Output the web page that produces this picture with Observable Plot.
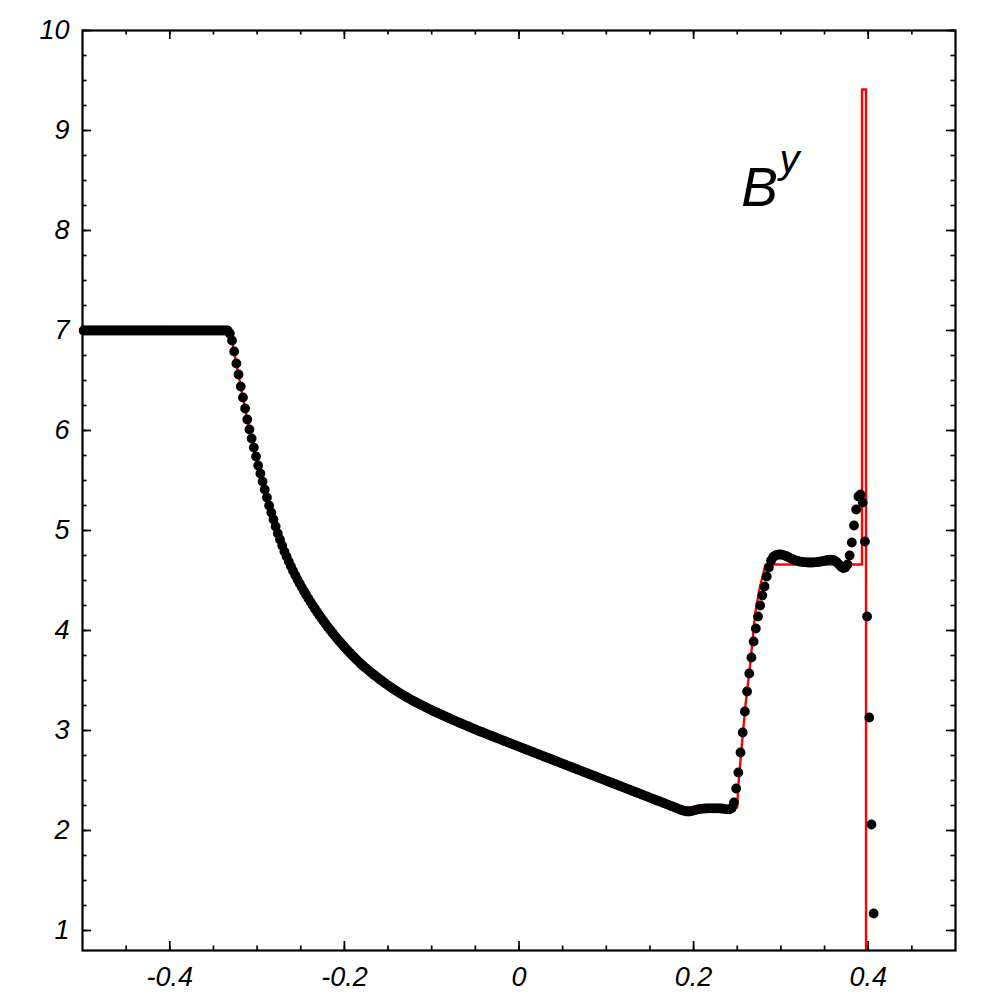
<!DOCTYPE html>
<html><head><meta charset="utf-8">
<script src="https://cdn.jsdelivr.net/npm/d3@7"></script>
<script src="https://cdn.jsdelivr.net/npm/@observablehq/plot@0.6"></script>
<style>body{margin:0;background:#fff}</style>
</head><body><div id="chart"></div>
<script>
// Simulation cell grid (uniform cells on [-0.5, 0.5])
const cellX0 = -0.49875, cellDx = 0.0025;
// Numerical B^y values (black dots), one per cell
const simBy = [
7,7,7,7,7,7,7,7,7,7,
7,7,7,7,7,7,7,7,7,7,
7,7,7,7,7,7,7,7,7,7,
7,7,7,7,7,7,7,7,7,7,
7,7,7,7,7,7,7,7,7,7,
7,7,7,7,7,7,7,7,7,7,
7,7,7,7,7,7,7,
6.97,6.90,6.79,
6.67,6.56,6.44,6.33,6.22,6.11,6.01,5.92,5.83,5.74,
5.65,5.57,5.49,5.41,5.33,5.25,5.18,5.11,5.04,4.97,
4.91,4.85,4.79,4.74,4.69,4.642,4.596,4.552,4.510,4.470,
4.431,4.393,4.356,4.320,4.285,4.251,4.218,4.185,4.153,4.122,
4.092,4.062,4.033,4.005,3.977,3.950,3.924,3.898,3.873,3.848,
3.824,3.800,3.777,3.754,3.732,3.710,3.689,3.668,3.648,3.629,
3.611,3.593,3.575,3.558,3.541,3.524,3.507,3.491,3.475,3.459,
3.444,3.429,3.414,3.400,3.386,3.372,3.359,3.346,3.333,3.321,
3.309,3.297,3.285,3.274,3.263,3.252,3.241,3.230,3.219,3.209,
3.198,3.188,3.178,3.168,3.158,3.148,3.138,3.128,3.118,3.108,
3.099,3.089,3.080,3.070,3.061,3.052,3.043,3.033,3.024,3.015,
3.006,2.997,2.988,2.980,2.971,2.962,2.954,2.945,2.936,2.928,
2.919,2.911,2.902,2.893,2.885,2.876,2.868,2.859,2.851,2.842,
2.834,2.825,2.817,2.808,2.800,2.791,2.783,2.774,2.766,2.757,
2.749,2.740,2.732,2.723,2.715,2.706,2.698,2.689,2.681,2.672,
2.664,2.655,2.647,2.638,2.630,2.621,2.613,2.604,2.596,2.587,
2.579,2.570,2.562,2.553,2.545,2.536,2.528,2.519,2.511,2.502,
2.494,2.485,2.477,2.468,2.460,2.451,2.443,2.434,2.426,2.417,
2.409,2.400,2.392,2.383,2.375,2.366,2.358,2.349,2.341,2.332,
2.324,2.315,2.307,2.298,2.290,2.281,2.273,2.264,2.256,2.247,
2.239,2.230,2.221,2.212,2.204,2.197,2.192,2.190,2.191,2.196,
2.203,2.209,2.214,2.217,2.219,2.220,2.221,2.222,2.222,2.222,
2.222,2.221,2.220,2.218,2.214,2.211,2.212,2.225,2.28,2.42,
2.58,2.78,2.98,3.19,3.39,3.57,3.73,3.89,4.02,4.14,
4.25,4.35,4.44,4.54,4.63,4.70,4.735,4.750,4.758,4.760,
4.758,4.752,4.743,4.733,4.722,4.712,4.703,4.696,4.690,4.686,
4.683,4.681,4.680,4.680,4.680,4.681,4.683,4.686,4.690,4.695,
4.700,4.705,4.708,4.707,4.700,4.685,4.662,4.640,4.625,4.630,
4.66,4.75,4.88,5.05,5.21,5.34,5.36,5.28,4.89,4.14,
3.13,2.06,1.17
];

// Exact solution (red line)
const exactX = [-0.5,-0.3325,-0.32875,-0.32375,-0.31875,-0.31375,-0.30875,-0.30375,-0.29875,-0.29375,
  -0.28875,-0.28375,-0.27875,-0.27375,-0.26375,-0.25375,-0.24375,-0.23375,-0.22375,-0.21375,
  -0.20375,-0.18375,-0.15875,-0.12875,-0.08875,-0.04875,0.00125,0.05125,0.10125,0.15,
  0.19,0.2499,0.2510,0.2556,0.2595,0.2644,0.2690,0.2709,0.2758,0.2824,
  0.3929,0.3929,0.3975,0.3975];
const exactY = [7,7,6.90,6.67,6.44,6.22,6.01,5.83,5.65,5.49,
  5.33,5.18,5.04,4.91,4.69,4.51,4.36,4.22,4.09,3.98,
  3.87,3.69,3.51,3.34,3.16,3.01,2.83,2.66,2.49,2.33,
  2.23,2.23,2.43,2.89,3.26,3.63,4.03,4.19,4.43,4.66,
  4.66,9.41,9.41,0.7];

// Axes
const xDomain = [-0.5, 0.5];
const yDomain = [0.8, 10];
const xLabels = [-0.4, -0.2, 0, 0.2, 0.4];
const xMinor = [-0.45,-0.4,-0.35,-0.3,-0.25,-0.2,-0.15,-0.1,-0.05,0,0.05,0.1,0.15,0.2,0.25,0.3,0.35,0.4,0.45];
const yLabels = [1,2,3,4,5,6,7,8,9,10];
const yMinor = [1,1.25,1.5,1.75,2,2.25,2.5,2.75,3,3.25,3.5,3.75,4,4.25,4.5,4.75,5,5.25,5.5,5.75,
  6,6.25,6.5,6.75,7,7.25,7.5,7.75,8,8.25,8.5,8.75,9,9.25,9.5,9.75,10];

// Annotation
const labelMain = "B", labelSup = "y";
const labelMainPos = {x: 0.2545, y: 8.25};
const labelSupPos = {x: 0.2985, y: 8.58};

const sim = simBy.map((v, i) => ({x: cellX0 + cellDx * i, y: v}));
const exact = exactX.map((x, i) => ({x, y: exactY[i]}));

const font = "'Liberation Sans', Arial, Helvetica, sans-serif";
const tickStyle = {stroke: "black", strokeWidth: 1.7};
const MAJ = 9, MIN = 4.5;

const plot = Plot.plot({
  width: 1000, height: 1000,
  marginLeft: 82, marginRight: 45, marginTop: 30, marginBottom: 50,
  x: {domain: xDomain, axis: null},
  y: {domain: yDomain, axis: null},
  style: {background: "white", fontFamily: font, color: "black"},
  marks: [
    Plot.line(exact, {x: "x", y: "y", stroke: "#ff0000", strokeWidth: 2.4, clip: true}),
    Plot.dot(sim, {x: "x", y: "y", r: 4.9, fill: "black"}),
    // bottom & top ticks
    Plot.ruleX(xMinor, {x: d => d, y1: () => yDomain[0], y2: () => yDomain[0], insetBottom: MIN, ...tickStyle}),
    Plot.ruleX(xLabels, {x: d => d, y1: () => yDomain[0], y2: () => yDomain[0], insetBottom: MAJ, ...tickStyle}),
    Plot.ruleX(xMinor, {x: d => d, y1: () => yDomain[1], y2: () => yDomain[1], insetBottom: -MIN, ...tickStyle}),
    Plot.ruleX(xLabels, {x: d => d, y1: () => yDomain[1], y2: () => yDomain[1], insetBottom: -MAJ, ...tickStyle}),
    // left & right ticks
    Plot.ruleY(yMinor, {y: d => d, x1: () => xDomain[0], x2: () => xDomain[0], insetRight: -MIN, ...tickStyle}),
    Plot.ruleY(yLabels, {y: d => d, x1: () => xDomain[0], x2: () => xDomain[0], insetRight: -MAJ, ...tickStyle}),
    Plot.ruleY(yMinor, {y: d => d, x1: () => xDomain[1], x2: () => xDomain[1], insetLeft: -MIN, ...tickStyle}),
    Plot.ruleY(yLabels, {y: d => d, x1: () => xDomain[1], x2: () => xDomain[1], insetLeft: -MAJ, ...tickStyle}),
    Plot.frame({stroke: "black", strokeWidth: 2.2}),
    Plot.text(xLabels, {x: d => d, frameAnchor: "bottom", dy: 16, lineAnchor: "top", text: d => String(d),
      fontSize: 27, fontStyle: "italic", fill: "black"}),
    Plot.text(yLabels, {y: d => d, frameAnchor: "left", dx: -13, textAnchor: "end", lineAnchor: "middle",
      text: d => String(d), fontSize: 27, fontStyle: "italic", fill: "black"}),
    Plot.text([labelMainPos], {x: "x", y: "y", text: () => labelMain, textAnchor: "start", lineAnchor: "bottom",
      fontSize: 55, fontStyle: "italic", fill: "black"}),
    Plot.text([labelSupPos], {x: "x", y: "y", text: () => labelSup, textAnchor: "start", lineAnchor: "bottom",
      fontSize: 40, fontStyle: "italic", fill: "black"})
  ]
});
document.getElementById("chart").appendChild(plot);
</script>
</body></html>
